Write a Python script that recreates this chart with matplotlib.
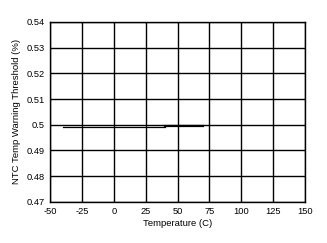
import matplotlib
matplotlib.use("Agg")
from matplotlib import pyplot as plt

temp = [-40, 40, 40.5, 70]
threshold = [0.4991, 0.4991, 0.4996, 0.4996]
lw = [0.9, 1.6]

xticks = [-50, -25, 0, 25, 50, 75, 100, 125, 150]
yticks = [0.47, 0.48, 0.49, 0.5, 0.51, 0.52, 0.53, 0.54]
ylabels = ["0.47", "0.48", "0.49", "0.5", "0.51", "0.52", "0.53", "0.54"]

plt.rcParams['font.family'] = ['Liberation Sans', 'DejaVu Sans']
plt.rcParams['axes.unicode_minus'] = False

fig = plt.figure(figsize=(3.27, 2.43), dpi=100)
ax = fig.add_axes([0.153, 0.169, 0.78, 0.741])

ax.plot(temp[:2], threshold[:2], color='black', linewidth=lw[0])
ax.plot(temp[2:], threshold[2:], color='black', linewidth=lw[1])

ax.set_xlim(-50, 150)
ax.set_ylim(0.47, 0.54)
ax.set_xticks(xticks)
ax.set_xticklabels([str(t) for t in xticks])
ax.set_yticks(yticks)
ax.set_yticklabels(ylabels)
ax.tick_params(length=0, labelsize=6.7, pad=4)
ax.grid(True, color='black', linewidth=1.0)
for s in ax.spines.values():
    s.set_color('black')
    s.set_linewidth(1.0)

ax.set_xlabel("Temperature (C)", fontsize=6.8, labelpad=2)
ax.set_ylabel("NTC Temp Warning Threshold (%)", fontsize=6.8, labelpad=4)

fig.savefig("out.png", dpi=100)
